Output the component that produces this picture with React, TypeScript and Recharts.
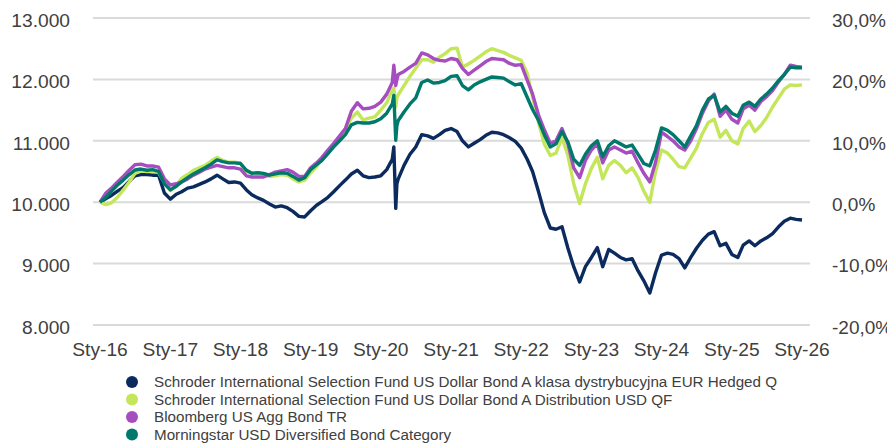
import React from "react";
import { LineChart, Line, XAxis, YAxis, CartesianGrid } from "recharts";

// Extra data points inside March 2020 (COVID shock)
const extraMarch2020 = ["2020-03-09", "2020-03-19", "2020-03-25"];

const seriesNames = [
  "Schroder International Selection Fund US Dollar Bond A klasa dystrybucyjna EUR Hedged Q",
  "Schroder International Selection Fund US Dollar Bond A Distribution USD QF",
  "Bloomberg US Agg Bond TR",
  "Morningstar USD Diversified Bond Category",
];
const seriesColors = ["#0b2b5e", "#c4e65a", "#a64dbf", "#00786c"];

// Values on the 10.000 base, monthly (2020 row includes Mar-09, Mar-19, Mar-25)
const navyEurHedged = [
  10000, 10060, 10110, 10180, 10240, 10340, 10430, 10450, 10450, 10440, 10440, 10150,
  10050, 10130, 10170, 10230, 10250, 10290, 10330, 10380, 10440, 10380, 10320, 10330,
  10310, 10200, 10120, 10070, 10030, 9970, 9920, 9940, 9910, 9850, 9770, 9760,
  9860, 9950, 10010, 10080, 10170, 10270, 10360, 10460, 10520, 10430, 10400, 10410,
  10430, 10530, 10700, 10900, 9900, 10300, 10380, 10600, 10780, 10900, 11100, 11080, 11040, 11100, 11170,
  11200, 11150, 11000, 10900, 10960, 11020, 11090, 11140, 11130, 11100, 11050, 10990,
  10880, 10700, 10500, 10170, 9830, 9580, 9560, 9600, 9250, 8950, 8700, 8950,
  9100, 9260, 8950, 9230, 9170, 9100, 9060, 9080, 8880, 8720, 8520, 8850,
  9140, 9170, 9150, 9080, 8930, 9100, 9250, 9380, 9480, 9520, 9290, 9330,
  9150, 9100, 9300, 9370, 9290, 9370, 9420, 9490, 9600, 9690, 9740, 9720,
  9710,
];
const limeUsdQf = [
  10000, 9960, 9990, 10080, 10200, 10330, 10470, 10510, 10500, 10510, 10480, 10320,
  10190, 10270, 10390, 10450, 10520, 10560, 10600, 10670, 10730, 10680, 10650, 10650,
  10640, 10500, 10480, 10480, 10450, 10420, 10430, 10450, 10440, 10380, 10330, 10360,
  10480, 10580, 10700, 10820, 10930, 11070, 11170, 11370, 11470, 11340, 11370, 11390,
  11500, 11620, 11830, 11860, 11550, 11700, 11750, 11900, 12050, 12180, 12320, 12320, 12280, 12360, 12420,
  12500, 12510, 12200, 12250, 12310, 12380, 12450, 12500, 12470, 12440, 12390, 12350,
  12310, 12100, 11720, 11300, 10950, 10760, 10800, 11050, 10760, 10300, 9980, 10300,
  10550, 10730, 10380, 10600, 10680, 10600, 10480, 10560, 10400, 10180, 10000, 10500,
  10850, 10800, 10700, 10580, 10560, 10720, 10880, 11120, 11300, 11350, 11060, 11170,
  11000, 10950, 11200, 11320, 11150, 11250, 11380, 11550, 11700, 11840, 11910, 11900,
  11910,
];
const purpleBloomberg = [
  10000, 10150, 10230, 10330, 10420, 10520, 10610, 10620, 10590, 10590, 10570, 10380,
  10280, 10300, 10330, 10380, 10440, 10490, 10540, 10570, 10600, 10580, 10560, 10560,
  10540, 10430, 10410, 10410, 10410, 10450, 10490, 10510, 10530, 10490, 10420, 10420,
  10560, 10640, 10730, 10850, 10960, 11080, 11200, 11480, 11620, 11520, 11530, 11560,
  11630, 11760, 11950, 12230, 11900, 12000, 12080, 12130, 12200, 12260, 12430, 12400, 12340, 12310, 12300,
  12340, 12320, 12180, 12080, 12150, 12220, 12290, 12340, 12330, 12320, 12260, 12230,
  12240, 11990, 11760, 11420, 11180, 10960, 11000, 11200, 10950, 10560, 10400, 10680,
  10850, 10950, 10640, 10850, 10900, 10850, 10800, 10830, 10640, 10470, 10330, 10650,
  11140, 11070, 11000, 10900, 10850, 11000, 11200, 11450, 11650, 11760, 11400, 11500,
  11350, 11290, 11520, 11580, 11500, 11640, 11720, 11820, 11960, 12080, 12230, 12210,
  12200,
];
const tealMorningstar = [
  10000, 10080, 10180, 10280, 10360, 10450, 10525, 10540, 10520, 10530, 10500, 10300,
  10200, 10260, 10330, 10400, 10460, 10510, 10560, 10620, 10690, 10660, 10640, 10640,
  10630, 10520, 10470, 10480, 10470, 10440, 10460, 10480, 10470, 10420, 10360, 10400,
  10530, 10610, 10680, 10790, 10900, 11000, 11100, 11260, 11300, 11290, 11290, 11310,
  11360, 11450, 11600, 11740, 11010, 11250, 11330, 11470, 11600, 11700, 11950, 11990, 11940, 11950, 11980,
  12050, 12060, 11900, 11830, 11910, 11960, 12000, 12040, 12030, 12020, 11960, 11910,
  11930, 11710, 11510, 11330, 11100, 10900, 10950, 11150, 10980, 10700, 10600, 10780,
  10920, 11000, 10740, 10920, 11000, 10950, 10900, 10930, 10780, 10630, 10590, 10850,
  11210, 11170, 11100, 11000, 10900, 11080, 11250, 11500, 11680, 11740, 11470, 11560,
  11450, 11400, 11580, 11630, 11560, 11680, 11760, 11860, 11980, 12080, 12200, 12190,
  12190,
];

const leftTicks = [8000, 9000, 10000, 11000, 12000, 13000];
const rightTicks = [-20, -10, 0, 10, 20, 30];
const yearTicks = [2016, 2017, 2018, 2019, 2020, 2021, 2022, 2023, 2024, 2025, 2026];
const monthPrefix = "Sty";

function buildDates(): string[] {
  const out: string[] = [];
  for (let y = 2016; y <= 2026; y++) {
    for (let m = 1; m <= 12; m++) {
      if (y === 2026 && m > 1) break;
      out.push(`${y}-${String(m).padStart(2, "0")}-01`);
      if (y === 2020 && m === 3) out.push(...extraMarch2020);
    }
  }
  return out;
}

const dates = buildDates();
const data = dates.map((d, i) => ({
  t: Date.parse(d + "T00:00:00Z"),
  s0: navyEurHedged[i],
  s1: limeUsdQf[i],
  s2: purpleBloomberg[i],
  s3: tealMorningstar[i],
}));

const xTicks = yearTicks.map((y) => Date.UTC(y, 0, 1));
const fmtLeft = (v: number) => `${Math.floor(v / 1000)}.${String(v % 1000).padStart(3, "0")}`;
const fmtRight = (v: number) => `${v},0%`;
const fmtX = (t: number) => `${monthPrefix}-${String(new Date(t).getUTCFullYear()).slice(2)}`;

const FONT = "'Liberation Sans', Arial, Helvetica, sans-serif";
const TEXT = "#404040";

export default function App() {
  const tickStyle = { fontSize: 19.2, fill: TEXT, fontFamily: FONT };
  return (
    <div style={{ position: "relative", width: 887, height: 437, background: "#fff" }}>
      <style>{"html,body{overflow:hidden;}"}</style>
      <LineChart
        width={887}
        height={437}
        data={data}
        margin={{ top: 10, right: 0, bottom: 92, left: 0 }}
      >
        <CartesianGrid yAxisId="left" vertical={false} stroke="#dadada" strokeWidth={2} />
        <XAxis
          dataKey="t"
          type="number"
          domain={[xTicks[0], xTicks[xTicks.length - 1]]}
          ticks={xTicks}
          tickFormatter={fmtX}
          padding={{ left: 7, right: 8 }}
          height={28}
          axisLine={false}
          tickLine={false}
          tickSize={0}
          tickMargin={17}
          tick={tickStyle}
          interval={0}
        />
        <YAxis
          yAxisId="left"
          domain={[8000, 13000]}
          ticks={leftTicks}
          tickFormatter={fmtLeft}
          width={85}
          axisLine={false}
          tickLine={false}
          tickSize={0}
          tickMargin={23}
          tick={{ ...tickStyle, dy: 2 }}
          interval={0}
        />
        <YAxis
          yAxisId="right"
          orientation="right"
          domain={[-20, 30]}
          ticks={rightTicks}
          tickFormatter={fmtRight}
          width={85}
          axisLine={false}
          tickLine={false}
          tickSize={0}
          tickMargin={22}
          tick={{ ...tickStyle, fontSize: 19, dy: 2 }}
          interval={0}
          allowDataOverflow
        />
        {["s0", "s1", "s2", "s3"].map((k, i) => (
          <Line
            key={k}
            yAxisId="left"
            type="linear"
            dataKey={k}
            stroke={seriesColors[i]}
            strokeWidth={3.4}
            dot={false}
            activeDot={false}
            isAnimationActive={false}
            strokeLinejoin="round"
          />
        ))}
      </LineChart>
      <svg width={887} height={92} style={{ position: "absolute", left: 0, top: 345 }}>
        {seriesNames.map((name, i) => {
          const cy = 29 + i * 17.5;
          return (
            <g key={name}>
              <circle cx={124} cy={cy} r={6} fill={seriesColors[i]} />
              <text x={146} y={cy + 5.3} fontSize={15.2} fill={TEXT} fontFamily={FONT}>
                {name}
              </text>
            </g>
          );
        })}
      </svg>
    </div>
  );
}
